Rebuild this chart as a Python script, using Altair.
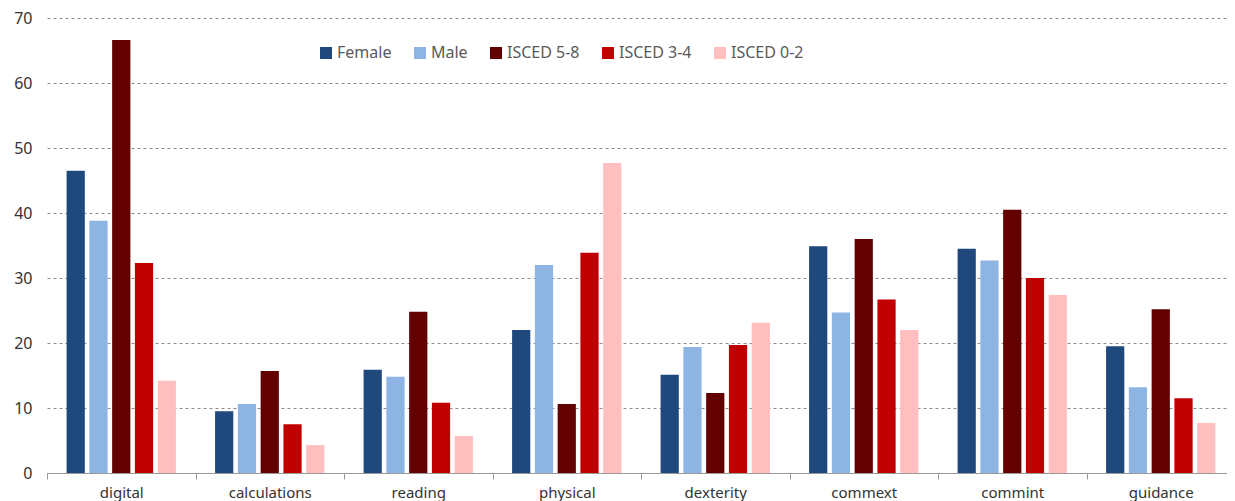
import altair as alt
import pandas as pd

categories = ["digital", "calculations", "reading", "physical", "dexterity", "commext", "commint", "guidance"]
series = ["Female", "Male", "ISCED 5-8", "ISCED 3-4", "ISCED 0-2"]
female = [46.5, 9.5, 15.9, 22.0, 15.1, 34.9, 34.5, 19.5]
male = [38.8, 10.6, 14.8, 32.0, 19.4, 24.7, 32.7, 13.2]
isced58 = [66.6, 15.7, 24.8, 10.6, 12.3, 36.0, 40.5, 25.2]
isced34 = [32.3, 7.5, 10.8, 33.9, 19.7, 26.7, 30.0, 11.5]
isced02 = [14.2, 4.3, 5.7, 47.7, 23.1, 22.0, 27.4, 7.7]
colors = ["#1F497D", "#8DB4E2", "#630000", "#C00000", "#FFBFBF"]

rows = []
for s, vals in zip(series, [female, male, isced58, isced34, isced02]):
    for c, v in zip(categories, vals):
        rows.append({"category": c, "series": s, "value": v})
df = pd.DataFrame(rows)

FONT = "Noto Sans"

chart = alt.Chart(df).mark_bar().encode(
    x=alt.X("category:N", sort=categories, title=None,
            scale=alt.Scale(paddingInner=0, paddingOuter=0, range=[0, 1188]),
            axis=alt.Axis(labelAngle=0, tickBand="extent", domainColor="#999999",
                          tickColor="#999999", tickSize=6, labelPadding=6,
                          labelFontSize=15, labelColor="#333333", labelFont=FONT,
                          grid=False)),
    xOffset=alt.XOffset("series:N", sort=series,
                        scale=alt.Scale(paddingInner=0.2, paddingOuter=0.86)),
    y=alt.Y("value:Q", title=None,
            scale=alt.Scale(domain=[0, 70], nice=False),
            axis=alt.Axis(values=list(range(0, 80, 10)), domain=False, ticks=False,
                          labelPadding=15, labelFontSize=16, labelColor="#333333",
                          labelFont=FONT, gridDash=[3, 3], gridColor="#8c8c8c",
                          gridWidth=1)),
    color=alt.Color("series:N", sort=series,
                    scale=alt.Scale(domain=series, range=colors),
                    legend=alt.Legend(title=None, orient="none", legendX=271, legendY=27,
                                      direction="horizontal", symbolType="square",
                                      symbolSize=144, symbolStrokeWidth=0,
                                      columnPadding=20, labelOffset=3,
                                      labelFontSize=16, labelColor="#595959",
                                      labelFont=FONT)),
).properties(
    width=1180, height=455,
    autosize=alt.AutoSizeParams(type="none"),
    padding={"left": 39, "top": 10, "right": 0, "bottom": 30},
).configure_view(stroke=None)

chart.save("out.html", embed_options={"renderer": "svg", "actions": False})
